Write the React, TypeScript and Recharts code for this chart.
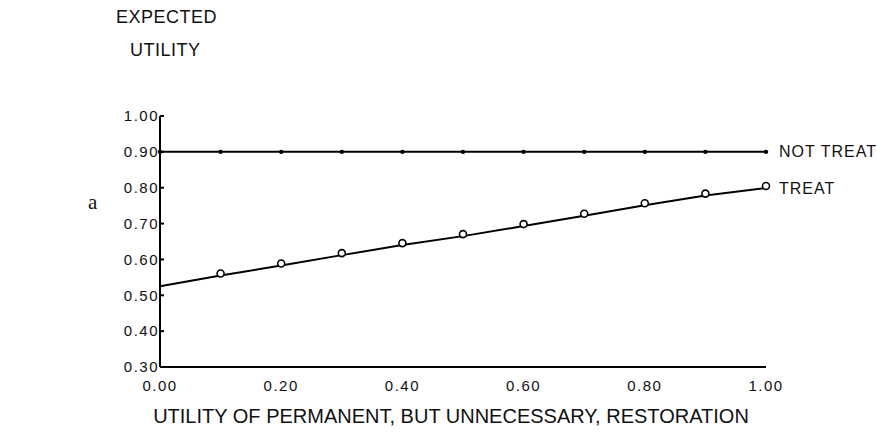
import React from 'react';
import { LineChart, Line, XAxis, YAxis, LabelList } from 'recharts';

const xValues = [0, 0.1, 0.2, 0.3, 0.4, 0.5, 0.6, 0.7, 0.8, 0.9, 1.0];
const notTreatValues = [0.9, 0.9, 0.9, 0.9, 0.9, 0.9, 0.9, 0.9, 0.9, 0.9, 0.9];
const treatValues = [0.525, 0.555, 0.583, 0.612, 0.64, 0.665, 0.693, 0.722, 0.751, 0.778, 0.799];
const xTicks = [0, 0.2, 0.4, 0.6, 0.8, 1.0];
const xTickLabels = ['0.00', '0.20', '0.40', '0.60', '0.80', '1.00'];
const yTicks = [0.3, 0.4, 0.5, 0.6, 0.7, 0.8, 0.9, 1.0];
const yTickLabels = ['0.30', '0.40', '0.50', '0.60', '0.70', '0.80', '0.90', '1.00'];
const seriesNames = ['NOT TREAT', 'TREAT'];
const yTitle = ['EXPECTED', 'UTILITY'];
const xTitle = 'UTILITY OF PERMANENT, BUT UNNECESSARY, RESTORATION';
const panelLetter = 'a';

const data = xValues.map((x, i) => ({ x, notTreat: notTreatValues[i], treat: treatValues[i] }));

const FONT = '"Liberation Sans", Arial, Helvetica, sans-serif';

const XTick = (props: any) => {
  const { x, y, payload, index } = props;
  const i = xTicks.indexOf(payload.value);
  return (
    <text x={x} y={y + 24} textAnchor="middle" fontFamily={FONT} fontSize={15} letterSpacing={1.5} fill="#111">
      {xTickLabels[i >= 0 ? i : index]}
    </text>
  );
};

const YTick = (props: any) => {
  const { x, y, payload, index } = props;
  const i = yTicks.findIndex((t) => Math.abs(t - payload.value) < 1e-9);
  return (
    <g>
      <line x1={x} x2={x + 4} y1={y} y2={y} stroke="#000" strokeWidth={2} />
      <text x={x - 1} y={y} dy="0.35em" textAnchor="end" fontFamily={FONT} fontSize={15} letterSpacing={1.5} fill="#111">
        {yTickLabels[i >= 0 ? i : index]}
      </text>
    </g>
  );
};

const SmallDot = (props: any) => {
  const { cx, cy, index } = props;
  return <circle key={'nd' + index} cx={cx} cy={cy} r={2.2} fill="#000" />;
};

const OpenDot = (props: any) => {
  const { cx, cy, index } = props;
  if (index === 0) return <g key={'td' + index} />;
  return <circle key={'td' + index} cx={cx} cy={cy - 2} r={3.5} fill="#fff" stroke="#000" strokeWidth={1.6} />;
};

const endLabel = (name: string, count: number) => (props: any) => {
  const { x, y, index } = props;
  if (index !== count - 1) return null;
  return (
    <text x={x + 13} y={y} dy="0.35em" fontFamily={FONT} fontSize={16} letterSpacing={1} fill="#111">
      {name}
    </text>
  );
};

export default function App() {
  return (
    <div style={{ position: 'absolute', left: 0, top: 0, width: 877, height: 441, background: '#fff' }}>
      <div style={{ position: 'absolute', left: 116, top: 1, fontFamily: FONT, fontSize: 18, letterSpacing: 0.5, color: '#111', lineHeight: '33px' }}>
        <div>{yTitle[0]}</div>
        <div style={{ paddingLeft: 14 }}>{yTitle[1]}</div>
      </div>
      <div style={{ position: 'absolute', left: 88, top: 190, fontFamily: '"Liberation Serif", "Times New Roman", serif', fontSize: 21, color: '#111' }}>
        {panelLetter}
      </div>
      <LineChart width={877} height={441} data={data} margin={{ top: 116, right: 111, bottom: 0, left: 0 }}>
        <XAxis
          dataKey="x"
          type="number"
          domain={[0, 1]}
          ticks={xTicks}
          height={74}
          axisLine={{ stroke: '#000', strokeWidth: 2 }}
          tickLine={false}
          tickSize={0}
          tickMargin={0}
          tick={<XTick />}
          label={{ value: xTitle, position: 'insideBottom', offset: 18, fontSize: 20, fill: '#111', fontFamily: FONT, dx: -12 }}
        />
        <YAxis
          type="number"
          domain={[0.3, 1.0]}
          ticks={yTicks}
          width={160}
          axisLine={{ stroke: '#000', strokeWidth: 2 }}
          tickLine={false}
          tickSize={0}
          tickMargin={0}
          tick={<YTick />}
          interval={0}
        />
        <Line dataKey="notTreat" stroke="#000" strokeWidth={2} dot={<SmallDot />} isAnimationActive={false}>
          <LabelList dataKey="notTreat" content={endLabel(seriesNames[0], data.length)} />
        </Line>
        <Line dataKey="treat" stroke="#000" strokeWidth={2} dot={<OpenDot />} isAnimationActive={false}>
          <LabelList dataKey="treat" content={endLabel(seriesNames[1], data.length)} />
        </Line>
      </LineChart>
    </div>
  );
}
